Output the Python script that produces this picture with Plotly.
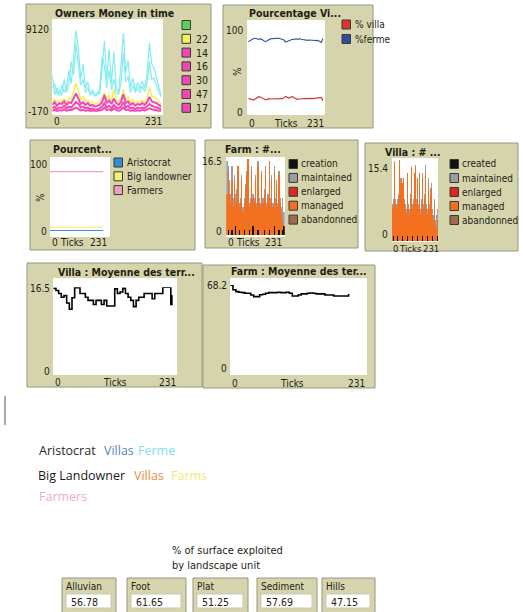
import plotly.graph_objects as go

W, H = 523, 612
FONT = "DejaVu Sans Condensed, DejaVu Sans, sans-serif"
FONT2 = "Open Sans, Noto Sans, sans-serif"

# ---------------- data ----------------
ticks = list(range(0, 235, 5))  # 0..230 (47 points)

owners_cyan_a = [3900, 1700, 2500, 1600, 2800, 2000, 2600, 4500, 3000, 6000, 9000, 7000, 3500, 5200, 2500, 3200,
                 1800, 2300, 1700, 2000, 1800, 4500, 7800, 3500, 6900, 3000, 6600, 2600, 2000, 5000, 8700, 4200,
                 5600, 2600, 3600, 2200, 3100, 2400, 3300, 2500, 4000, 7600, 5200, 4700, 3600, 2600, 1600]
owners_cyan_b = [2500, 3000, 1800, 2200, 1700, 3500, 2000, 3000, 5500, 4000, 7500, 5000, 2800, 3500, 2000, 2600,
                 1700, 2000, 1600, 1700, 2500, 6000, 5000, 2500, 4500, 2300, 3500, 2000, 1800, 3000, 6500, 3200,
                 3800, 2000, 2800, 2000, 2500, 2000, 2700, 2100, 3000, 5500, 3500, 3600, 2800, 2000, 1500]
owners_yellow = [800, 1200, 900, 1100, 1000, 1300, 900, 1400, 1200, 2200, 3000, 2200, 1200, 1500, 1000, 1100,
                 800, 900, 700, 800, 900, 1300, 2000, 1200, 1700, 1000, 2400, 1100, 900, 1300, 2300, 1200,
                 1500, 900, 1200, 800, 1000, 900, 1100, 900, 1300, 2600, 1600, 1500, 1200, 900, 700]
owners_pink_a = [600, 900, 500, 800, 700, 1000, 600, 900, 800, 1400, 1900, 1300, 700, 900, 600, 800,
                 500, 600, 400, 500, 600, 900, 1700, 800, 1100, 700, 1300, 800, 600, 900, 1800, 800,
                 1000, 600, 800, 500, 700, 600, 800, 600, 900, 1500, 1000, 900, 800, 600, 400]
owners_pink_b = [200, 400, 100, 300, 250, 500, 200, 400, 300, 600, 900, 700, 300, 400, 200, 300,
                 100, 200, 50, 100, 200, 400, 800, 300, 500, 200, 600, 300, 200, 400, 900, 300,
                 500, 200, 300, 100, 300, 200, 300, 200, 400, 700, 500, 400, 300, 200, 100]
owners_pink_c = [-100, 50, -150, 0, -50, 100, -100, 50, 0, 200, 300, 150, -50, 50, -100, 0,
                 -150, -50, -150, -100, -50, 50, 300, 0, 100, -50, 200, 0, -100, 50, 300, 0,
                 100, -100, 0, -150, 0, -100, 50, -50, 50, 200, 100, 50, 0, -50, -150]
owners_legend_labels = ["", "22", "14", "16", "30", "47", "17"]
owners_legend_colors = ["#5ccf5c", "#f4f060", "#f048b4", "#f048b4", "#f048b4", "#f048b4", "#f048b4"]

pct_ticks = list(range(5, 230, 5))  # 5..225
pct_ferme = [85.0, 86.2, 87.9, 88.7, 89.1, 88.3, 87.9, 88.3, 87.9, 86.2, 85.0, 86.2, 87.4, 88.3, 88.7,
             89.1, 88.7, 89.1, 89.1, 88.7, 87.9, 87.0, 84.6, 85.4, 86.6, 87.4, 87.9, 87.4, 88.7, 87.9,
             88.7, 87.9, 87.4, 87.0, 87.0, 86.6, 87.0, 86.6, 87.0, 86.2, 86.2, 86.6, 85.8, 84.2, 88.7]
pct_villa = [16.2, 15.4, 14.6, 14.2, 15.4, 16.6, 18.2, 17.8, 16.6, 15.4, 14.6, 15.0, 15.8, 15.4, 15.4,
             15.0, 15.4, 15.0, 15.4, 15.0, 15.8, 17.0, 18.6, 17.4, 16.6, 17.8, 18.2, 17.0, 15.8, 15.0,
             15.4, 15.8, 16.2, 15.8, 15.8, 16.2, 15.8, 16.2, 15.8, 16.2, 16.6, 17.0, 17.8, 17.4, 13.4]

cls_ticks = [0, 50, 100, 150, 205]
cls_farmers = [90, 90, 90, 90, 90]
cls_biglandowner = [6, 6, 6, 6, 6]
cls_aristocrat = [0.5, 0.5, 0.5, 0.5, 0.5]

farm_maintained = [16, 15, 12, 9, 15, 8, 13, 9, 10, 15, 7, 8, 13, 6, 8, 11, 14, 16.5, 7, 8, 15, 9, 8, 13,
                   7, 16, 8, 7, 14, 8, 10, 15, 7, 9, 16, 8, 13, 7, 15, 8, 12, 7, 14, 8, 6, 8, 5]
farm_managed = [9, 14, 9, 7, 12, 6, 11, 7, 8, 15, 6, 7, 12, 5, 7, 10, 13, 16.5, 6, 7, 14, 8, 7, 12,
                6, 15, 7, 6, 13, 7, 9, 14, 6, 8, 16, 7, 12, 6, 14, 7, 11, 6, 13, 7, 5, 3, 2]
farm_creation = [0, 1, 0, 0, 1, 0, 0, 2, 0, 0, 1, 0, 0, 0, 1, 0, 0, 0, 1, 0, 0, 2, 0, 0,
                 0, 1, 0, 0, 0, 0, 1, 0, 0, 0, 1, 0, 0, 0, 2, 0, 0, 0, 1, 0, 0, 1, 2]

villa_maintained = [7, 8, 15.2, 8, 7, 8, 9, 15.4, 12, 12, 11, 12, 8, 7, 6, 13, 7, 6, 9, 14, 7, 8, 13, 7,
                    14.5, 8, 12, 7, 13, 6, 8, 13, 7, 9, 14.5, 7, 6, 12, 7, 10, 11, 6, 5, 8, 4, 5, 6]
villa_managed = [6, 7, 14.8, 7, 6, 7, 8, 15.4, 11, 12, 11, 12, 7, 6, 5, 13, 6, 5, 8, 14, 6, 7, 13, 6,
                 14, 7, 12, 6, 13, 5, 7, 12, 6, 8, 13, 6, 5, 11, 6, 9, 10, 5, 4, 7, 3, 2, 4]
villa_creation = [0, 1, 0, 0, 0, 1, 0, 0, 0, 0, 1, 0, 0, 0, 0, 1, 0, 0, 0, 0, 1, 0, 0, 0,
                  0, 0, 1, 0, 0, 0, 0, 1, 0, 0, 0, 0, 1, 0, 0, 0, 0, 1, 0, 0, 0, 0, 1]
bar_legend_farm = ["creation", "maintained", "enlarged", "managed", "abandonned"]
bar_legend_villa = ["created", "maintained", "enlarged", "managed", "abandonned"]
bar_legend_colors = ["#111111", "#9c9ca4", "#d82828", "#f27020", "#9c6c4c"]

villa_mean_ticks = list(range(0, 225, 5)) + [222]
villa_mean = [16.3, 15.9, 15.3, 14.6, 14.9, 13.5, 12.3, 14.5, 16.4, 16.4, 15.3, 15.3, 14.6, 14.0, 14.0, 13.2,
              14.0, 14.0, 13.2, 14.0, 12.9, 12.9, 12.9, 16.2, 15.3, 15.6, 16.3, 15.3, 14.6, 14.0, 12.8, 14.0,
              14.6, 14.6, 15.3, 15.3, 15.3, 14.3, 15.3, 15.3, 15.3, 16.5, 16.5, 16.5, 13.2, 15.0]
farm_mean_ticks = list(range(0, 205, 5))
farm_mean = [68.2, 64.5, 63.1, 62.6, 62.3, 61.8, 61.8, 60.5, 59.2, 59.2, 60.7, 61.0, 61.8, 62.3, 62.3, 62.3,
             62.6, 62.3, 62.3, 62.6, 61.8, 59.7, 59.7, 60.5, 61.3, 61.3, 61.8, 62.0, 61.8, 61.3, 61.3, 61.3,
             60.5, 60.5, 60.5, 59.7, 59.7, 59.7, 59.7, 59.7, 61.3]

monitor_labels = ["Alluvian", "Foot", "Plat", "Sediment", "Hills"]
monitor_values = ["56.78", "61.65", "51.25", "57.69", "47.15"]

# ---------------- helpers ----------------
def px(x):
    return x / W

def py(y):
    return 1 - y / H

fig = go.Figure()
shapes = []
annots = []

PANEL_BG = "rgb(214,212,172)"
PANEL_LINE = "rgb(150,150,128)"
TXT = "#1e1e14"

def rect(x0, y0, x1, y1, fill, line=None, lw=1, layer="below"):
    shapes.append(dict(type="rect", xref="paper", yref="paper", x0=px(x0), x1=px(x1), y0=py(y1), y1=py(y0),
                       fillcolor=fill, line=dict(color=line or fill, width=lw if line else 0), layer=layer))

def text(x, y, s, size=10, color=TXT, bold=False, xanchor="left", family=FONT, angle=0):
    annots.append(dict(x=px(x), y=py(y), xref="paper", yref="paper", text=(f"<b>{s}</b>" if bold else s),
                       showarrow=False, xanchor=xanchor, yanchor="middle", textangle=angle,
                       font=dict(size=size, color=color, family=family), borderpad=0))

def axes(idx, x0, x1, ytop, ybot, xr, yr):
    xa = "xaxis" if idx == 1 else f"xaxis{idx}"
    ya = "yaxis" if idx == 1 else f"yaxis{idx}"
    common = dict(visible=False, showgrid=False, zeroline=False, fixedrange=True)
    fig.update_layout(**{
        xa: dict(domain=[px(x0), px(x1)], range=xr, anchor=f"y{idx if idx > 1 else ''}", **common),
        ya: dict(domain=[py(ybot), py(ytop)], range=yr, anchor=f"x{idx if idx > 1 else ''}", **common),
    })
    return (f"x{idx if idx > 1 else ''}", f"y{idx if idx > 1 else ''}")

def panel(x0, y0, x1, y1):
    rect(x0, y0, x1, y1, PANEL_BG, PANEL_LINE, 1)

def swatch(x, yc, color):
    rect(x, yc - 4.5, x + 8.5, yc + 4.5, color, "#3a3a30", 1)

# ---------------- panel 1: Owners Money ----------------
panel(26, 4, 211, 128)
rect(52, 19, 163, 115, "white")
xa, ya = axes(1, 52.3, 161.7, 29.3, 111.7, [0, 231], [-170, 9120])
for ser in (owners_cyan_b, owners_cyan_a):
    fig.add_trace(go.Scatter(x=ticks, y=ser, mode="lines", line=dict(color="#82ecf2", width=1.2),
                             xaxis=xa, yaxis=ya, showlegend=False, hoverinfo="skip"))
fig.add_trace(go.Scatter(x=ticks, y=owners_yellow, mode="lines", line=dict(color="#f2f05a", width=1.5),
                         xaxis=xa, yaxis=ya, showlegend=False, hoverinfo="skip"))
for ser in (owners_pink_a, owners_pink_b, owners_pink_c):
    fig.add_trace(go.Scatter(x=ticks, y=ser, mode="lines", line=dict(color="#f048b4", width=2),
                             xaxis=xa, yaxis=ya, showlegend=False, hoverinfo="skip"))
text(114, 13, "Owners Money in time", size=10.5, bold=True, xanchor="center")
text(50, 29, "9120", xanchor="right")
text(50, 111, "-170", xanchor="right")
text(53, 122, "0")
text(163, 122, "231", xanchor="right")
for i, (lab, col) in enumerate(zip(owners_legend_labels, owners_legend_colors)):
    yc = 25 + i * 13.8
    swatch(182, yc, col)
    if lab:
        text(195, yc, lab, size=10.5)

# ---------------- panel 2: Pourcentage ----------------
panel(223, 5, 373, 128)
rect(247, 20, 325, 115, "white")
xa, ya = axes(2, 246.7, 325, 29.3, 111.7, [0, 231], [0, 100])
fig.add_trace(go.Scatter(x=pct_ticks, y=pct_ferme, mode="lines", line=dict(color="#3c5a9e", width=1.2),
                         xaxis=xa, yaxis=ya, showlegend=False, hoverinfo="skip"))
fig.add_trace(go.Scatter(x=pct_ticks, y=pct_villa, mode="lines", line=dict(color="#d23a3a", width=1.2),
                         xaxis=xa, yaxis=ya, showlegend=False, hoverinfo="skip"))
text(248, 13, "Pourcentage Vi...", size=10.5, bold=True)
text(244, 30, "100", xanchor="right")
text(237, 72, "%", angle=-90, xanchor="center")
text(244, 112, "0", xanchor="right")
text(248, 124, "0")
text(286, 124, "Ticks", xanchor="center")
text(325, 124, "231", xanchor="right")
swatch(342, 24.5, "#e03030")
text(354, 24.5, "% villa", size=10)
swatch(342, 39, "#2e4f9e")
text(354, 39, "%ferme", size=10)

# ---------------- panel 3: Pourcent... ----------------
panel(30, 140, 195, 250)
rect(50, 157, 110, 237, "white")
xa, ya = axes(3, 50, 110, 165, 231, [0, 231], [0, 100])
fig.add_trace(go.Scatter(x=cls_ticks, y=cls_farmers, mode="lines", line=dict(color="#f0a4bc", width=1.2),
                         xaxis=xa, yaxis=ya, showlegend=False, hoverinfo="skip"))
fig.add_trace(go.Scatter(x=cls_ticks, y=cls_biglandowner, mode="lines", line=dict(color="#f2f07a", width=1.2),
                         xaxis=xa, yaxis=ya, showlegend=False, hoverinfo="skip"))
fig.add_trace(go.Scatter(x=cls_ticks, y=cls_aristocrat, mode="lines", line=dict(color="#3f8fd2", width=1.2),
                         xaxis=xa, yaxis=ya, showlegend=False, hoverinfo="skip"))
text(52, 149, "Pourcent...", size=10.5, bold=True)
text(48, 165, "100", xanchor="right")
text(41, 198, "%", angle=-90, xanchor="center")
text(48, 231, "0", xanchor="right")
text(51, 243, "0")
text(72, 243, "Ticks", xanchor="center")
text(108, 243, "231", xanchor="right")
for i, (lab, col) in enumerate(zip(["Aristocrat", "Big landowner", "Farmers"], ["#2f8fd0", "#f4f070", "#f0a0bc"])):
    yc = 162.5 + i * 13.8
    swatch(114, yc, col)
    text(126, yc, lab, size=10)

# ---------------- panel 4: Farm : #... ----------------
panel(205, 140, 358, 248)
rect(226, 157, 285, 237, "white")
xa, ya = axes(4, 226.3, 284.7, 159, 235, [-2.5, 232.5], [0, 16.5])
for ser, col in ((farm_maintained, "#9c9ca4"), (farm_managed, "#f27020"), (farm_creation, "#111111")):
    fig.add_trace(go.Bar(x=ticks, y=ser, width=5, marker=dict(color=col, line=dict(width=0)),
                         xaxis=xa, yaxis=ya, showlegend=False, hoverinfo="skip"))
text(253, 149, "Farm : #...", size=10.5, bold=True, xanchor="center")
text(223, 162, "16.5", xanchor="right")
text(223, 231, "0", xanchor="right")
text(227, 243, "0")
text(248, 243, "Ticks", xanchor="center")
text(283, 243, "231", xanchor="right")
for i, (lab, col) in enumerate(zip(bar_legend_farm, bar_legend_colors)):
    yc = 164 + i * 13.9
    swatch(289, yc, col)
    text(300, yc, lab, size=10)

# ---------------- panel 5: Villa : # ... ----------------
panel(365, 143, 518, 251)
rect(392, 158, 438, 242, "white")
xa, ya = axes(5, 392, 438, 160, 241, [-2.5, 232.5], [0, 15.4])
for ser, col in ((villa_maintained, "#9c9ca4"), (villa_managed, "#f27020"), (villa_creation, "#111111")):
    fig.add_trace(go.Bar(x=ticks, y=ser, width=5, marker=dict(color=col, line=dict(width=0)),
                         xaxis=xa, yaxis=ya, showlegend=False, hoverinfo="skip"))
text(413, 152, "Villa : # ...", size=10.5, bold=True, xanchor="center")
text(389, 168, "15.4", xanchor="right")
text(389, 235, "0", xanchor="right")
text(392, 248, "0", size=9.5)
text(410, 248, "Ticks", size=9.5, xanchor="center")
text(440, 248, "231", size=9.5, xanchor="right")
for i, (lab, col) in enumerate(zip(bar_legend_villa, bar_legend_colors)):
    yc = 164 + i * 14
    swatch(450, yc, col)
    text(461, yc, lab, size=10)

# ---------------- panel 6: Villa : Moyenne ----------------
panel(27, 263, 202, 387)
rect(53, 278, 177, 375, "white")
xa, ya = axes(6, 53.3, 176.7, 287.3, 373.3, [0, 231], [0, 16.5])
fig.add_trace(go.Scatter(x=villa_mean_ticks, y=villa_mean, mode="lines", line=dict(color="black", width=1.6, shape="hv"),
                         xaxis=xa, yaxis=ya, showlegend=False, hoverinfo="skip"))
text(126, 272, "Villa : Moyenne des terr...", size=10.5, bold=True, xanchor="center")
text(51, 288, "16.5", xanchor="right")
text(51, 372, "0", xanchor="right")
text(54, 382, "0")
text(115, 382, "Ticks", xanchor="center")
text(177, 382, "231", xanchor="right")

# ---------------- panel 7: Farm : Moyenne ----------------
panel(203, 265, 375, 388)
rect(230, 278, 367, 375, "white")
xa, ya = axes(7, 230, 367, 285, 373, [0, 231], [0, 68.2])
fig.add_trace(go.Scatter(x=farm_mean_ticks, y=farm_mean, mode="lines", line=dict(color="black", width=1.6, shape="hv"),
                         xaxis=xa, yaxis=ya, showlegend=False, hoverinfo="skip"))
text(299, 271, "Farm : Moyenne des ter...", size=10.5, bold=True, xanchor="center")
text(228, 285, "68.2", xanchor="right")
text(228, 368, "0", xanchor="right")
text(231, 383, "0")
text(292, 383, "Ticks", xanchor="center")
text(366, 383, "231", xanchor="right")

# left edge artefact
shapes.append(dict(type="line", xref="paper", yref="paper", x0=px(5), x1=px(5), y0=py(425), y1=py(396),
                   line=dict(color="#555555", width=1)))

# ---------------- colour key text ----------------
text(38, 450, "Aristocrat", size=12.5, color="#2a2a2a", family=FONT2)
text(103, 450, "Villas", size=12.5, color="#5b7fc4", family=FONT2)
text(137, 450, "Ferme", size=12.5, color="#86dcea", family=FONT2)
text(37, 475, "Big Landowner", size=12.5, color="#1a1a1a", family=FONT2)
text(133, 475, "Villas", size=12.5, color="#f0884a", family=FONT2)
text(170, 475, "Farms", size=12.5, color="#ecec70", family=FONT2)
text(38, 496, "Farmers", size=12.5, color="#f0aac8", family=FONT2)

# ---------------- monitors ----------------
text(171, 550, "% of surface exploited", size=11)
text(171, 565, "by landscape unit", size=11)
mon_boxes = [(62, 116), (127, 186), (193, 248), (257, 317), (322, 375)]
for (x0, x1), lab, val in zip(mon_boxes, monitor_labels, monitor_values):
    rect(x0, 578, x1, 614, PANEL_BG, PANEL_LINE, 1)
    rect(x0 + 4, 594, x1 - 5, 608, "white", "#c8c8b8", 1)
    text(x0 + 3, 586, lab, size=10, bold=False)
    text(x0 + 8, 601.5, val, size=10.5)

fig.update_layout(width=W, height=H, margin=dict(l=0, r=0, t=0, b=0), autosize=False,
                  paper_bgcolor="white", plot_bgcolor="rgba(0,0,0,0)", barmode="overlay", bargap=0,
                  shapes=shapes, annotations=annots, showlegend=False)

fig.write_html("out.html", config={"displayModeBar": False, "staticPlot": True},
               post_script="document.body.style.margin='0';document.body.style.overflow='hidden';")
